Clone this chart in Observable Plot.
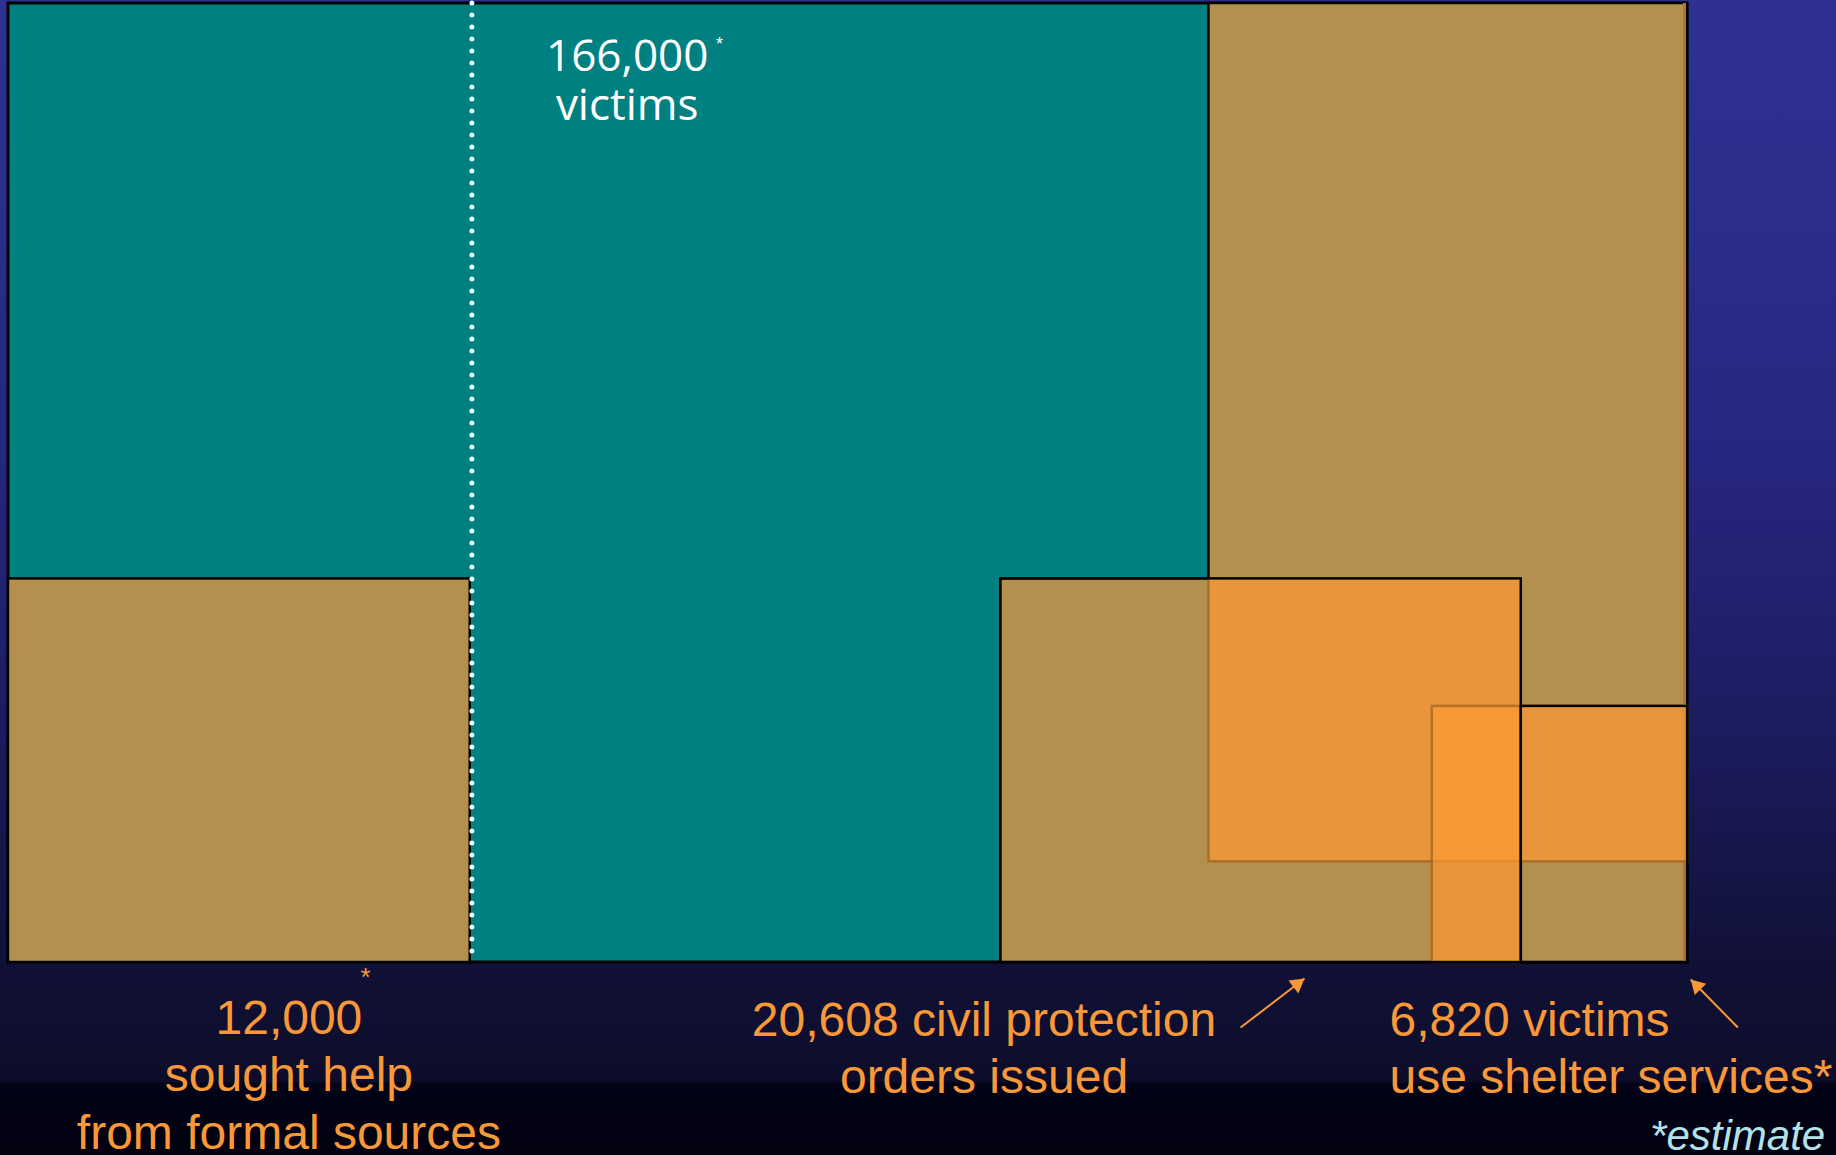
<!DOCTYPE html>
<html>
<head>
<meta charset="utf-8">
<script src="https://cdn.jsdelivr.net/npm/d3@7"></script>
<script src="https://cdn.jsdelivr.net/npm/@observablehq/plot@0.6"></script>
<style>
  html, body { margin: 0; padding: 0; width: 1836px; height: 1155px; overflow: hidden; }
  body {
    background: linear-gradient(180deg,
      #2E3192 0%, #2B2D8A 20%, #262780 38%, #1F206C 55%, #181852 70%,
      #111138 83%, #0D0D2A 93.6%, #030318 93.8%, #01010F 100%);
  }
  #chart svg { display: block; }
  g[aria-label="victims-label"] { letter-spacing: 2.5px; font-weight: 300; }
</style>
</head>
<body>
<div id="chart"></div>
<script>
// ---- Data: nested areas, expressed as percent of the 166,000-victim box ----
const rectKeys = ["victims", "soughtHelp", "soughtHelpRight", "civilOrders", "shelterOutside",
                  "overlap", "shelterStrip", "shelterRight"];
const rectX1   = [0,   0,    71.5, 59.1, 90.1, 71.5, 84.8, 90.1];
const rectX2   = [100, 27.5, 100,  90.1, 100,  90.1, 90.1, 100];
const rectY1   = [0,   0,    0,    0,    0,    10.5, 0,    10.5];
const rectY2   = [100, 40.0, 100,  40.0, 26.7, 40.0, 26.7, 26.7];

// dotted divider position (percent of width)
const dividerX = [27.6];

// label texts
const labelTexts = ["166,000\nvictims", "12,000\nsought help\nfrom formal sources",
                    "20,608 civil protection\norders issued", "6,820 victims\nuse shelter services*", "*estimate"];

// ---- Layout ----
const W = 1836, H = 1155;
const M = {left: 8, right: 149, top: 3, bottom: 193};
const xOpts = {domain: [0, 100], range: [M.left, W - M.right]};
const yOpts = {domain: [0, 100], range: [H - M.bottom, M.top]};
const sx = Plot.scale({x: xOpts});
const sy = Plot.scale({y: yOpts});

const rects = rectKeys.map((k, i) => ({key: k, x1: rectX1[i], x2: rectX2[i], y1: rectY1[i], y2: rectY2[i]}));
const R = (...keys) => keys.map(k => rects.find(r => r.key === k));
const box = {x1: "x1", x2: "x2", y1: "y1", y2: "y2"};

// annotation placement (data units; negative y = below the box)
const labelPos = {
  victims:     {x: 36.85, y: 87.8},
  soughtHelp:  {x: 16.7, y: -19.4},
  civilOrders: {x: 58.1, y: -13.6},
  shelter:     {x: 82.25, y: -13.6},
  estimate:    {x: 108.2, y: -19.5}
};
const stars = [
  {x: 42.35, y: 95.8, size: 18, fill: "#ffffff"},
  {x: 21.26, y: -1.6, size: 26, fill: "#F89838"}
];
const arrowsData = [
  {x1: 73.38, y1: -6.78, x2: 77.19, y2: -1.67},
  {x1: 103.0, y1: -6.78, x2: 100.19, y2: -1.77}
];
// arrowhead triangles: rotation & centre computed in pixel space through the scales
const headR = 6;
const headY = Math.sqrt(Math.PI * headR * headR / (Math.sqrt(3) * 3));
const heads = arrowsData.map(a => {
  const px1 = sx.apply(a.x1), py1 = sy.apply(a.y1), px2 = sx.apply(a.x2), py2 = sy.apply(a.y2);
  const ang = Math.atan2(py2 - py1, px2 - px1);
  const cx = px2 - Math.cos(ang) * 2 * headY, cy = py2 - Math.sin(ang) * 2 * headY;
  return {x: sx.invert(cx), y: sy.invert(cy), rotate: ang * 180 / Math.PI + 90};
});

const orange = "#F89838";
const tan = "#B3904D";
const sans = "Liberation Sans, Arial, sans-serif";

const plot = Plot.plot({
  width: W, height: H,
  marginLeft: M.left, marginRight: M.right, marginTop: M.top, marginBottom: M.bottom,
  x: {...xOpts, axis: null},
  y: {...yOpts, axis: null},
  style: {background: "transparent", overflow: "visible"},
  marks: [
    Plot.rect(R("victims"), {...box, fill: "#008080", stroke: "#000", strokeWidth: 3}),
    Plot.rect(R("soughtHelp", "soughtHelpRight", "shelterOutside", "civilOrders"),
      {...box, fill: tan, stroke: "#000", strokeWidth: 2.5}),
    Plot.ruleX(R("soughtHelpRight"), {x: "x2", y1: "y1", y2: "y2", stroke: "#B8702E", strokeWidth: 3, dx: -3}),
    Plot.ruleX(dividerX, {stroke: "#E6FFFF", strokeWidth: 5, strokeDasharray: "0 12", strokeLinecap: "round"}),
    Plot.rect(R("overlap", "shelterStrip", "shelterRight"), {...box,
      fill: "#FF9A33", fillOpacity: 0.68, stroke: "#A0601E", strokeOpacity: 0.7, strokeWidth: 2.5}),
    Plot.rect(R("civilOrders", "shelterOutside"), {...box, fill: "none", stroke: "#000", strokeWidth: 2.2}),
    // labels
    Plot.text([labelTexts[0]], {x: labelPos.victims.x, y: labelPos.victims.y, text: d => d, ariaLabel: "victims-label",
      fill: "#fff", fontSize: 44, fontFamily: "Open Sans", lineAnchor: "bottom", lineHeight: 1.136, textAnchor: "middle"}),
    Plot.text([labelTexts[1], labelTexts[2]], {
      x: (d, i) => [labelPos.soughtHelp.x, labelPos.civilOrders.x][i],
      y: (d, i) => [labelPos.soughtHelp.y, labelPos.civilOrders.y][i],
      text: d => d, fill: orange, fontSize: 48, fontFamily: sans,
      lineAnchor: "bottom", lineHeight: 1.19, textAnchor: "middle"}),
    Plot.text([labelTexts[3]], {x: labelPos.shelter.x, y: labelPos.shelter.y, text: d => d,
      fill: orange, fontSize: 48, fontFamily: sans, lineAnchor: "bottom", lineHeight: 1.19, textAnchor: "start"}),
    Plot.text([labelTexts[4]], {x: labelPos.estimate.x, y: labelPos.estimate.y, text: d => d,
      fill: "#B4E1E8", fontSize: 42, fontStyle: "italic", fontFamily: sans, lineAnchor: "bottom", textAnchor: "end"}),
    Plot.text(stars, {x: "x", y: "y", text: () => "*", fontSize: "size", fill: "fill",
      fontFamily: sans, lineAnchor: "middle", textAnchor: "middle"}),
    // arrows
    Plot.link(arrowsData, {x1: "x1", y1: "y1", x2: "x2", y2: "y2", stroke: orange, strokeWidth: 2}),
    Plot.dot(heads, {x: "x", y: "y", rotate: "rotate", symbol: "triangle", r: headR, fill: orange, stroke: "none"})
  ]
});
document.getElementById("chart").appendChild(plot);
</script>
</body>
</html>
